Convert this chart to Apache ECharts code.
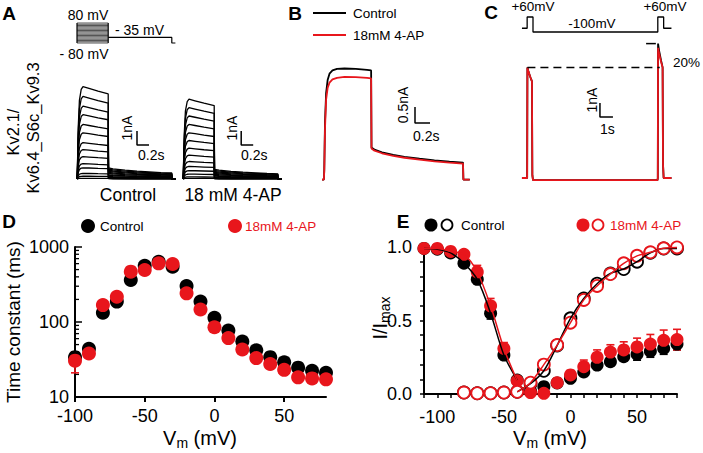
<!DOCTYPE html>
<html><head><meta charset="utf-8">
<script src="https://cdn.jsdelivr.net/npm/echarts@6/dist/echarts.min.js"></script>
<style>html,body{margin:0;padding:0;background:#fff}#c{width:703px;height:453px}</style>
</head><body><div id="c"></div>
<script>
const RED = '#e8161c';
const FONT = '"Liberation Sans", Arial, sans-serif';

// ---------- Panel A ----------
const aProtocolSteps = [-80,-70,-60,-50,-40,-30,-20,-10,0,10,20,30,40,50,60,70,80];
const aProtocolTail = [[0.52,-35],[1.58,-35],[1.58,-80],[1.64,-80]];
const aShapeT = [0, 0.005, 0.02, 0.04, 0.07, 0.1, 0.2, 0.35, 0.52, 0.525, 0.6, 0.8, 1.0, 1.2, 1.4, 1.58, 1.585, 1.64];
const aShapeF = [0, 0.05, 0.55, 0.85, 0.97, 1.0, 0.98, 0.95, 0.92, 0.12, 0.11, 0.095, 0.085, 0.078, 0.07, 0.065, 0, 0];
const aControlAmps = [6.6, 5.9, 5.2, 4.6, 3.9, 3.3, 2.6, 2.1, 1.6, 1.1, 0.8, 0.4, 0.2, 0.05];
const aDrugAmps = [5.7, 5.1, 4.5, 3.9, 3.3, 2.75, 2.2, 1.7, 1.25, 0.9, 0.6, 0.35, 0.15, 0.05];
const aScaleCtrl = [[1.0,3.43],[1.0,2.43],[1.2,2.43]];
const aScaleDrug = [[0.97,3.43],[0.97,2.43],[1.17,2.43]];

// ---------- Panel B ----------
const bT       = [0, 0.025, 0.03, 0.04, 0.055, 0.075, 0.1, 0.14, 0.2, 0.3, 0.45, 0.6, 0.655, 0.66, 0.7, 0.8, 0.95, 1.1, 1.3, 1.5, 1.7, 1.88, 1.885, 1.97];
const bControl = [0, 0, 0.3, 1.8, 2.7, 3.1, 3.3, 3.4, 3.45, 3.46, 3.45, 3.42, 3.4, 1.0, 0.93, 0.85, 0.77, 0.71, 0.65, 0.6, 0.56, 0.53, 0, 0];
const bDrug    = [0, 0, 0.25, 1.6, 2.5, 2.85, 3.02, 3.12, 3.17, 3.2, 3.19, 3.17, 3.15, 0.97, 0.9, 0.82, 0.74, 0.68, 0.62, 0.57, 0.53, 0.5, 0, 0];
const bScale = [[1.24,2.26],[1.24,1.76],[1.44,1.76]];

// ---------- Panel C ----------
const cProtocolT = [0.15, 0.55, 0.55, 1.0, 1.0, 10.6, 10.6, 11.05, 11.05, 11.65];
const cProtocolV = [-60, -60, 60, 60, -100, -100, 60, 60, -60, -60];
const cT     = [0.15, 0.55, 0.57, 0.65, 0.8, 0.92, 0.95, 1.0, 5.0, 10.58, 10.6, 10.62, 10.7, 10.85, 10.97, 11.0, 11.05, 11.65];
const cBlack = [0, 0, 7.9, 7.6, 7.2, 6.9, 0.2, -0.15, -0.15, -0.15, 0, 9.6, 9.1, 8.4, 7.9, 1.0, 0, 0];
const cRed   = [0, 0, 7.9, 7.6, 7.2, 6.9, 0.2, -0.15, -0.15, -0.15, 0, 9.3, 8.9, 8.3, 7.9, 1.0, 0, 0];
const cDashLong = [[0.57,7.9],[10.75,7.9]];
const cDashShort = [[9.7,9.6],[10.45,9.6]];
const cScale = [[6.15,5.36],[6.15,4.36],[7.15,4.36]];

// ---------- Panel D ----------
const dVm = [-100,-90,-80,-70,-60,-50,-40,-30,-20,-10,0,10,20,30,40,50,60,70,80];
const dControl = [34, 44, 133, 187, 363, 563, 637, 546, 302, 187, 114, 77, 55, 42, 34, 29, 24.6, 22.4, 21];
const dDrug    = [30.5, 38, 168, 217, 469, 494, 605, 593, 241, 147, 85, 61, 43, 33, 27.5, 23, 18.3, 17.7, 17.2];
const dDrugErrLow  = [21, 36, 160, 207, 450, 475, 585, 575, 232, 142, 82, 59, 41.5, 32, 26.5, 22.2, 17.7, 17.1, 16.6];
const dDrugErrHigh = [40, 40, 176, 227, 488, 513, 625, 611, 250, 152, 88, 63, 44.5, 34, 28.5, 23.8, 18.9, 18.3, 17.8];
const dMinorTicks = [20,30,40,50,60,70,80,90,200,300,400,500,600,700,800,900];
const dXTicks = [-100,-50,0,50];

// ---------- Panel E ----------
const eVm = [-110,-100,-90,-80,-70,-60,-50,-40,-30,-20,-10,0,10,20,30,40,50,60,70,80];
const eControlFilled = [0.99, 0.985, 0.96, 0.89, 0.78, 0.55, 0.265, 0.095, 0.02, 0.05, 0.075, 0.107, 0.15, 0.197, 0.22, 0.254, 0.27, 0.29, 0.31, 0.34];
const eControlErr    = [0.01, 0.01, 0.01, 0.02, 0.03, 0.04, 0.03, 0.02, 0.01, 0.01, 0.01, 0.02, 0.03, 0.03, 0.03, 0.03, 0.04, 0.04, 0.04, 0.04];
const eDrugFilled    = [0.99, 0.99, 0.97, 0.95, 0.83, 0.6, 0.31, 0.09, 0.01, 0.005, 0.077, 0.13, 0.186, 0.25, 0.285, 0.30, 0.32, 0.34, 0.365, 0.37];
const eDrugErr       = [0.01, 0.01, 0.01, 0.02, 0.045, 0.05, 0.04, 0.03, 0.02, 0.01, 0.02, 0.03, 0.045, 0.05, 0.05, 0.055, 0.06, 0.065, 0.07, 0.07];
const eOpenVm = [-80,-70,-60,-50,-40,-30,-20,-10,0,10,20,30,40,50,60,70,80];
const eControlOpen = [0.01, 0.005, 0.005, 0.01, 0.015, 0.07, 0.158, 0.33, 0.515, 0.65, 0.75, 0.82, 0.85, 0.90, 0.96, 0.99, 0.99];
const eDrugOpen    = [0.01, 0.005, 0.005, 0.01, 0.015, 0.077, 0.2, 0.333, 0.485, 0.64, 0.735, 0.816, 0.889, 0.94, 0.964, 0.991, 0.997];
const eXTicks = [-110,-100,-90,-80,-70,-60,-50,-40,-30,-20,-10,0,10,20,30,40,50,60,70,80];
const eXLabels = [-100,-50,0,50];
const eYTicks = [0,0.1,0.2,0.3,0.4,0.5,0.6,0.7,0.8,0.9,1.0];
const eYLabels = [0,0.5,1.0];

// ---------- build ----------
const chart = echarts.init(document.getElementById('c'), null, {renderer:'svg'});
const hid = (g, min, max) => ({type:'value', gridIndex:g, min, max, show:false});
const series = [];
function line(g, data, color, width, extra) {
  series.push(Object.assign({type:'line', xAxisIndex:g, yAxisIndex:g, data, symbol:'none',
    lineStyle:{color, width}, silent:true, animation:false, clip:false}, extra||{}));
}
// A protocol
aProtocolSteps.forEach(v => line(0, [[0,v],[0.52,v]], '#555', 1));
line(0, [[0,-80],[0,80]], '#000', 1.2);
line(0, [[0.52,80],[0.52,-80]], '#000', 1.2);
line(0, aProtocolTail, '#000', 1.2);
// A traces
aControlAmps.forEach(a => line(1, aShapeT.map((t,i)=>[t, a*aShapeF[i]]), '#000', 1.3));
aDrugAmps.forEach(a => line(2, aShapeT.map((t,i)=>[t, a*aShapeF[i]]), '#000', 1.3));
line(1, aScaleCtrl, '#000', 1.5);
line(2, aScaleDrug, '#000', 1.5);
// B
line(3, bT.map((t,i)=>[t,bControl[i]]), '#000', 1.8);
line(3, bT.map((t,i)=>[t,bDrug[i]]), RED, 1.8);
line(3, bScale, '#000', 1.5);
// C
line(4, cProtocolT.map((t,i)=>[t,cProtocolV[i]]), '#000', 1.3);
line(5, cT.map((t,i)=>[t,cBlack[i]]), '#000', 1.8);
line(5, cT.map((t,i)=>[t,cRed[i]]), RED, 1.8);
line(5, cDashLong, '#000', 1.5, {lineStyle:{color:'#000', width:1.5, type:[8,5]}});
line(5, cDashShort, '#000', 1.5);
line(5, cScale, '#000', 1.5);
// D minor ticks
series.push({type:'custom', xAxisIndex:6, yAxisIndex:6, data: dMinorTicks.map(v=>[-100, v]), silent:true, animation:false, clip:false,
  renderItem:(p, api)=>{ const c = api.coord([api.value(0), api.value(1)]);
    return {type:'line', shape:{x1:c[0], y1:c[1], x2:c[0]+4, y2:c[1]}, style:{stroke:'#000', lineWidth:1.3}}; }});
function errSeries(g, data, color) {
  series.push({type:'custom', xAxisIndex:g, yAxisIndex:g, data, silent:true, animation:false, clip:false,
    renderItem:(p, api)=>{ const a = api.coord([api.value(0), api.value(1)]); const b = api.coord([api.value(0), api.value(2)]);
      const w = 4;
      return {type:'group', children:[
        {type:'line', shape:{x1:a[0], y1:a[1], x2:b[0], y2:b[1]}, style:{stroke:color, lineWidth:1.6}},
        {type:'line', shape:{x1:a[0]-w, y1:a[1], x2:a[0]+w, y2:a[1]}, style:{stroke:color, lineWidth:1.6}},
        {type:'line', shape:{x1:b[0]-w, y1:b[1], x2:b[0]+w, y2:b[1]}, style:{stroke:color, lineWidth:1.6}}]}; }});
}
function scatter(g, data, color, size, open) {
  series.push({type:'scatter', xAxisIndex:g, yAxisIndex:g, data, symbol:'circle', symbolSize:size, silent:true, animation:false, clip:false,
    itemStyle: open ? {color:'#fff', borderColor:color, borderWidth:1.8, opacity:1} : {color, borderWidth:0, opacity:1}});
}
scatter(6, dVm.map((v,i)=>[v,dControl[i]]), '#000', 14);
errSeries(6, dVm.map((v,i)=>[v,dDrugErrLow[i],dDrugErrHigh[i]]), RED);
scatter(6, dVm.map((v,i)=>[v,dDrug[i]]), RED, 14);
// E
errSeries(7, eVm.map((v,i)=>[v, eControlFilled[i]-eControlErr[i], eControlFilled[i]+eControlErr[i]]), '#000');
line(7, eVm.slice(0,8).map((v,i)=>[v,eControlFilled[i]]), '#000', 1.5, {smooth:0.3});
line(7, eOpenVm.slice(4).map((v,i)=>[v,eControlOpen[i+4]]), '#000', 1.5, {smooth:0.3});
scatter(7, eVm.map((v,i)=>[v,eControlFilled[i]]), '#000', 13);
scatter(7, eOpenVm.map((v,i)=>[v,eControlOpen[i]]), '#000', 12, true);
errSeries(7, eVm.map((v,i)=>[v, eDrugFilled[i]-eDrugErr[i], eDrugFilled[i]+eDrugErr[i]]), RED);
line(7, eVm.slice(0,8).map((v,i)=>[v,eDrugFilled[i]]), RED, 1.5, {smooth:0.3});
line(7, eOpenVm.slice(4).map((v,i)=>[v,eDrugOpen[i+4]]), RED, 1.5, {smooth:0.3});
scatter(7, eVm.map((v,i)=>[v,eDrugFilled[i]]), RED, 13);
scatter(7, eOpenVm.map((v,i)=>[v,eDrugOpen[i]]), RED, 12, true);

const axLine = {show:true, onZero:false, lineStyle:{color:'#000', width:2}};
const lbl = (extra) => Object.assign({color:'#000', fontSize:18, fontFamily:FONT}, extra);

const txt = (x, y, text, o) => ({type:'text', x, y, silent:true, style:Object.assign({text, fill:'#000', fontSize:14, fontFamily:FONT, align:'center', verticalAlign:'middle'}, o||{})});
const rot = (x, y, text, o) => Object.assign(txt(x, y, text, o), {rotation: Math.PI/2});
const circ = (cx, cy, r, fill, stroke) => ({type:'circle', silent:true, shape:{cx, cy, r}, style:{fill, stroke: stroke||null, lineWidth: stroke?1.8:0}});
const seg = (x1,y1,x2,y2,color) => ({type:'line', silent:true, shape:{x1,y1,x2,y2}, style:{stroke:color, lineWidth:2}});
const vmRich = {a:{fontSize:20, fontFamily:FONT, fill:'#000'}, b:{fontSize:14, fontFamily:FONT, fill:'#000', padding:[10,0,0,0]}};

chart.setOption({
  backgroundColor:'#fff',
  animation:false,
  grid:[
    {left:77, top:23, width:99, height:20},
    {left:77, top:81, width:99, height:105},
    {left:183, top:81, width:99, height:105},
    {left:322, top:64, width:150, height:122},
    {left:520, top:17, width:156, height:15},
    {left:520, top:38, width:156, height:147},
    {left:75, top:247, width:251, height:150},
    {left:424, top:247, width:253, height:147}
  ],
  xAxis:[
    hid(0,0,1.65), hid(1,0,1.65), hid(2,0,1.65), hid(3,0,2), hid(4,0,12), hid(5,0,12),
    {type:'value', gridIndex:6, min:-100, max:80, axisLine:axLine, splitLine:{show:false},
      axisTick:{show:true, inside:false, length:5, lineStyle:{color:'#000', width:2}, customValues:dXTicks},
      axisLabel:lbl({margin:10, customValues:dXTicks})},
    {type:'value', gridIndex:7, min:-110, max:80, axisLine:axLine, splitLine:{show:false},
      axisTick:{show:true, inside:false, length:4, lineStyle:{color:'#000', width:1.5}, customValues:eXTicks},
      axisLabel:lbl({margin:14, customValues:eXLabels})}
  ],
  yAxis:[
    hid(0,-80,80), hid(1,-0.5,7), hid(2,-0.5,7), hid(3,-0.2,3.6), hid(4,-100,60), hid(5,-0.5,10),
    {type:'log', logBase:10, gridIndex:6, min:10, max:1000, axisLine:axLine, splitLine:{show:false}, minorTick:{show:false},
      axisTick:{show:true, inside:true, length:7, lineStyle:{color:'#000', width:1.5}},
      axisLabel:lbl({margin:6, formatter:v=>String(Math.round(v))})},
    {type:'value', gridIndex:7, min:0, max:1, axisLine:axLine, splitLine:{show:false},
      axisTick:{show:true, inside:false, length:4, lineStyle:{color:'#000', width:1.5}, customValues:eYTicks},
      axisLabel:lbl({margin:12, customValues:eYLabels, formatter:v=>v.toFixed(1)})}
  ],
  series,
  graphic:[
    txt(9,13,'A',{fontSize:19, fontWeight:'bold'}),
    txt(295,13,'B',{fontSize:19, fontWeight:'bold'}),
    txt(491,12,'C',{fontSize:19, fontWeight:'bold'}),
    txt(9,221,'D',{fontSize:19, fontWeight:'bold'}),
    txt(403,221,'E',{fontSize:19, fontWeight:'bold'}),
    // A texts
    txt(88,15,'80 mV'),
    txt(115,30,'- 35 mV',{align:'left'}),
    txt(84,54,'- 80 mV'),
    rot(13,132,'Kv2.1/',{fontSize:16.5}),
    rot(33,128,'Kv6.4_S6c_Kv9.3',{fontSize:16.5}),
    rot(127,128,'1nA'),
    txt(138,155,'0.2s',{align:'left'}),
    rot(232,128,'1nA'),
    txt(241,155,'0.2s',{align:'left'}),
    txt(128,195,'Control',{fontSize:17.5}),
    txt(233,195,'18 mM 4-AP',{fontSize:17.5}),
    // B texts
    seg(313,13,346,13,'#000'),
    txt(353,13,'Control',{align:'left', fontSize:13.5}),
    seg(313,35,346,35,RED),
    txt(353,35,'18mM 4-AP',{align:'left', fontSize:13.5}),
    rot(403,105,'0.5nA'),
    txt(413,136,'0.2s',{align:'left'}),
    // C texts
    txt(533,6,'+60mV',{fontSize:13.5}),
    txt(665,6,'+60mV',{fontSize:13.5}),
    txt(592,23,'-100mV',{fontSize:13.5}),
    txt(673,62,'20%',{align:'left', fontSize:13.5}),
    rot(592,100,'1nA'),
    txt(600,129,'1s',{align:'left'}),
    // D texts
    circ(88,226,7,'#000'),
    txt(100,226,'Control',{align:'left', fontSize:13.5}),
    circ(235,226,7,RED),
    txt(245,226,'18mM 4-AP',{align:'left', fontSize:13.5, fill:RED}),
    rot(13,322,'Time constant (ms)',{fontSize:19}),
    txt(200,438,'{a|V}{b|m}{a| (mV)}',{rich:vmRich}),
    // E texts
    circ(431,225,6.5,'#000'),
    circ(447,225,5.5,'#fff','#000'),
    txt(461,225,'Control',{align:'left', fontSize:13.5}),
    circ(583,225,6.5,RED),
    circ(598,225,5.5,'#fff',RED),
    txt(610,225,'18mM 4-AP',{align:'left', fontSize:13.5, fill:RED}),
    rot(380,318,'{a|I/I}{b|max}',{rich:vmRich}),
    txt(550,438,'{a|V}{b|m}{a| (mV)}',{rich:vmRich})
  ]
});
</script>
</body></html>
